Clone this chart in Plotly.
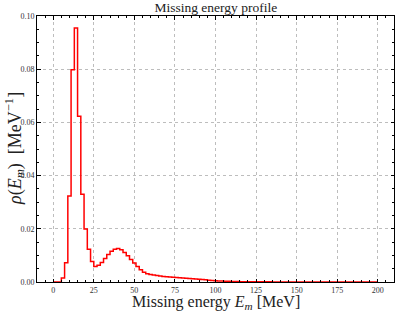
import plotly.graph_objects as go

# bin centres (MeV) and density values (MeV^-1)
energy = list(range(0, 202, 2))
density = [
    0.0, 0.0, 0.0, 0.0015, 0.0072, 0.0323, 0.0798, 0.0955, 0.0623, 0.0330,
    0.0199, 0.0123, 0.0077, 0.0058, 0.0063, 0.0073, 0.0088, 0.0103, 0.0116, 0.0123,
    0.0126, 0.0121, 0.0111, 0.0099, 0.0085, 0.0071, 0.0058, 0.0046, 0.0037, 0.0031,
    0.0028, 0.0026, 0.0024, 0.0023, 0.0021, 0.0020, 0.0019, 0.0018, 0.0017, 0.0016,
    0.0015, 0.0014, 0.0013, 0.0012, 0.0011, 0.0010, 0.0009, 0.0008, 0.0007, 0.0006,
    0.0005, 0.0004, 0.00035, 0.0003, 0.00025, 0.0002, 0.00018, 0.00016, 0.00014, 0.00012,
    0.0001, 0.0001, 0.00009, 0.00008, 0.00007, 0.00006, 0.00005, 0.00005, 0.00004, 0.00004,
    0.00003, 0.00003, 0.00003, 0.00002, 0.00002, 0.00002, 0.00002, 0.00001, 0.00001, 0.00001,
    0.00001, 0.00001, 0.00001, 0.00001, 0.0, 0.0, 0.0, 0.0, 0.0, 0.0,
    0.0, 0.0, 0.0, 0.0, 0.0, 0.0, 0.0, 0.0, 0.0, 0.0, 0.0,
]
x_ticks = [0, 25, 50, 75, 100, 125, 150, 175, 200]
y_ticks = [0.00, 0.02, 0.04, 0.06, 0.08, 0.10]

FONT = "Liberation Serif"

fig = go.Figure()
fig.add_trace(go.Scatter(
    x=energy, y=density, mode="lines",
    line=dict(color="#ff0000", width=1.5, shape="hvh"),
    showlegend=False, hoverinfo="skip",
))

axis_common = dict(
    showline=True, linecolor="black", linewidth=1,
    ticks="inside", ticklen=3.5, tickwidth=0.8, tickcolor="black",
    mirror="ticks", automargin=False,
    showgrid=True, gridcolor="#bdbdbd", gridwidth=0.5, griddash="dot",
    zeroline=False,
    tickfont=dict(family=FONT, size=8, color="#333"),
)

fig.update_layout(
    width=396, height=312,
    margin=dict(l=37, r=2, t=16, b=30),
    paper_bgcolor="white", plot_bgcolor="white",
    font=dict(family=FONT, color="black"),
    title=dict(text="Missing energy profile", x=0.545, xanchor="center",
               y=0.993, yanchor="top", font=dict(family=FONT, size=13.5, color="#222")),
    xaxis=dict(
        range=[-10, 210], tickvals=x_ticks, ticktext=[str(v) for v in x_ticks],
        minor=dict(dtick=5, tick0=0, ticks="inside", ticklen=2, tickwidth=0.6,
                   tickcolor="black", showgrid=False),
        **axis_common,
    ),
    yaxis=dict(
        range=[0, 0.1], tickvals=y_ticks, ticktext=[f"{v:.2f}" for v in y_ticks],
        minor=dict(dtick=0.005, tick0=0, ticks="inside", ticklen=2, tickwidth=0.6,
                   tickcolor="black", showgrid=False),
        **axis_common,
    ),
    annotations=[
        dict(text="Missing energy <i>E</i><sub><i>m</i></sub> [MeV]",
             xref="paper", yref="paper", x=0.5, y=0, yshift=-20,
             xanchor="center", yanchor="middle", showarrow=False,
             font=dict(family=FONT, size=16, color="#222")),
        dict(text="<i>ρ</i>(<i>E</i><sub><i>m</i></sub>)  [MeV<sup>−1</sup>]",
             xref="paper", yref="paper", x=0, y=0.5, xshift=-23,
             xanchor="center", yanchor="middle", textangle=-90,
             showarrow=False, font=dict(family=FONT, size=18, color="#222")),
    ],
)

fig.write_html(
    "out.html",
    config={"displayModeBar": False},
    post_script="document.body.style.margin='0';document.body.style.padding='0';",
)
